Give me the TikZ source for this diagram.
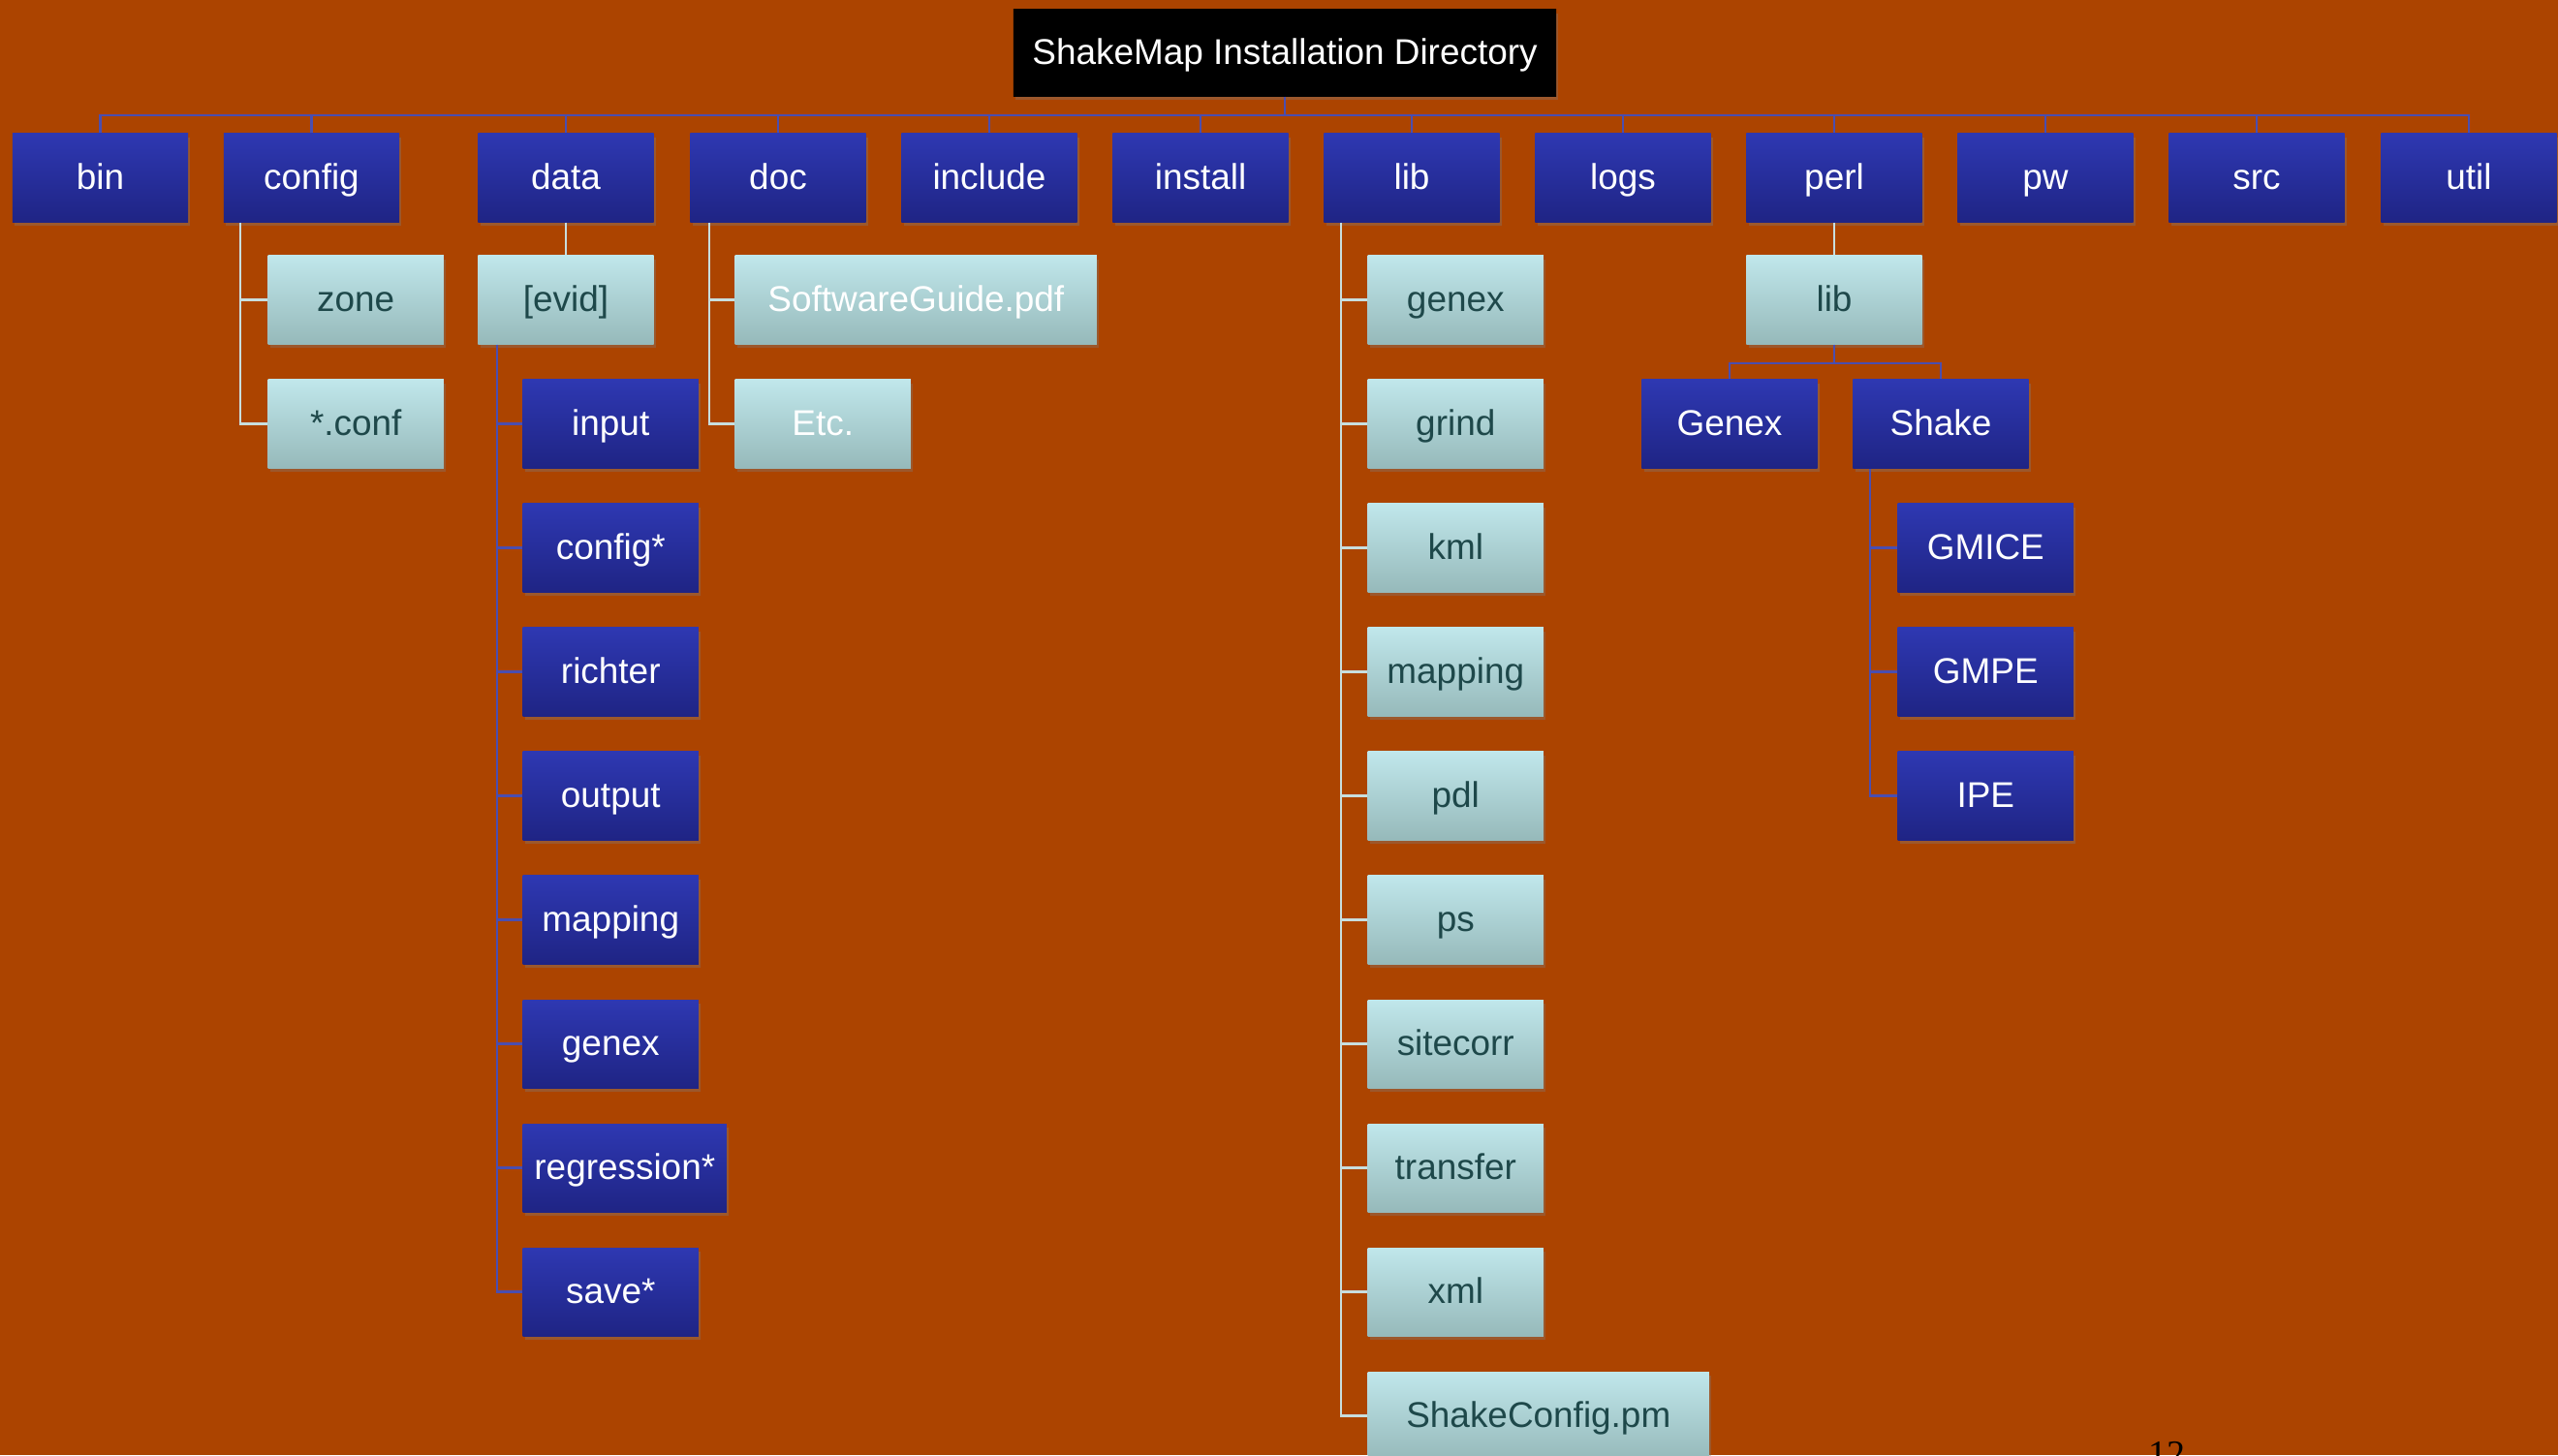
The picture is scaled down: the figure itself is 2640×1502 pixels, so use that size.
\documentclass[tikz,border=0pt]{standalone}
\usepackage{fontspec}
\setmainfont{Liberation Sans}
\newfontfamily\pagenumfont{Liberation Serif}
\usepackage{xcolor}
\usetikzlibrary{shadows}

\definecolor{bgorange}{RGB}{172,68,0}
\definecolor{boxtop}{RGB}{46,56,178}
\definecolor{boxbot}{RGB}{31,36,132}
\definecolor{paletop}{RGB}{192,231,235}
\definecolor{palebot}{RGB}{150,185,186}
\definecolor{paletext}{RGB}{30,72,74}
\definecolor{wireblue}{RGB}{74,78,176}
\definecolor{wirepale}{RGB}{200,222,222}

\tikzset{
  dirbox/.style={rectangle, minimum width=1.81cm, minimum height=0.91cm,
    top color=boxtop, bottom color=boxbot, text=white,
    text height=9.45pt, text depth=2.65pt,
    font=\fontsize{10.5}{12}\selectfont,
    drop shadow={shadow xshift=0.6pt, shadow yshift=-1.2pt, opacity=0.35}},
  filebox/.style={dirbox, top color=paletop, bottom color=palebot, text=paletext},
  bluewire/.style={draw=wireblue, line width=0.6pt},
  palewire/.style={draw=wirepale, line width=0.6pt}
}

\begin{document}
\begin{tikzpicture}[x=0.01cm, y=-0.01cm]
    \clip (0,0) rectangle (2640,1502);
    \fill[bgorange] (0,0) rectangle (2640,1502);

    % root
    \node[dirbox, top color=black, bottom color=black, minimum width=5.6cm, minimum height=0.89cm, font=\fontsize{10.5}{12}\selectfont] (title) at (1326,54.5) {ShakeMap Installation Directory};

    % first level
    \node[dirbox] (bin) at (103.5,183.5) {bin};
    \node[dirbox] (config) at (321.5,183.5) {config};
    \node[dirbox] (data) at (584,183.5) {data};
    \node[dirbox] (doc) at (803,183.5) {doc};
    \node[dirbox] (include) at (1021,183.5) {include};
    \node[dirbox] (install) at (1239,183.5) {install};
    \node[dirbox] (lib) at (1457,183.5) {lib};
    \node[dirbox] (logs) at (1675,183.5) {logs};
    \node[dirbox] (perl) at (1893,183.5) {perl};
    \node[dirbox] (pw) at (2111,183.5) {pw};
    \node[dirbox] (src) at (2329,183.5) {src};
    \node[dirbox] (util) at (2548,183.5) {util};

    % config
    \node[filebox, anchor=west] (zone) at (276,309.5) {zone};
    \node[filebox, anchor=west] (conf) at (276,437.5) {*.conf};

    % data
    \node[filebox] (evid) at (584,309.5) {[evid]};
    \node[dirbox, anchor=west] (input) at (539,437.5) {input};
    \node[dirbox, anchor=west] (cfgstar) at (539,565.5) {config*};
    \node[dirbox, anchor=west] (richter) at (539,693.5) {richter};
    \node[dirbox, anchor=west] (output) at (539,821.5) {output};
    \node[dirbox, anchor=west] (dmapping) at (539,949.5) {mapping};
    \node[dirbox, anchor=west] (dgenex) at (539,1077.5) {genex};
    \node[dirbox, anchor=west, minimum width=2.09cm] (regress) at (539,1205.5) {regression*};
    \node[dirbox, anchor=west] (save) at (539,1333.5) {save*};

    % doc
    \node[filebox, anchor=west, text=white, minimum width=3.73cm] (guide) at (758,309.5) {SoftwareGuide.pdf};
    \node[filebox, anchor=west, text=white] (etc) at (758,437.5) {Etc.};

    % lib
    \node[filebox, anchor=west] (lgenex) at (1411,309.5) {genex};
    \node[filebox, anchor=west] (grind) at (1411,437.5) {grind};
    \node[filebox, anchor=west] (kml) at (1411,565.5) {kml};
    \node[filebox, anchor=west] (lmapping) at (1411,693.5) {mapping};
    \node[filebox, anchor=west] (pdl) at (1411,821.5) {pdl};
    \node[filebox, anchor=west] (ps) at (1411,949.5) {ps};
    \node[filebox, anchor=west] (sitecorr) at (1411,1077.5) {sitecorr};
    \node[filebox, anchor=west] (transfer) at (1411,1205.5) {transfer};
    \node[filebox, anchor=west] (xml) at (1411,1333.5) {xml};
    \node[filebox, anchor=west, minimum width=3.52cm] (shakecfg) at (1411,1461.5) {ShakeConfig.pm};

    % perl
    \node[filebox] (plib) at (1893,309.5) {lib};
    \node[dirbox] (Genex) at (1785,437.5) {Genex};
    \node[dirbox] (Shake) at (2003,437.5) {Shake};
    \node[dirbox, anchor=west] (gmice) at (1958,565.5) {GMICE};
    \node[dirbox, anchor=west] (gmpe) at (1958,693.5) {GMPE};
    \node[dirbox, anchor=west] (ipe) at (1958,821.5) {IPE};

    % page number
    \node[anchor=base, inner sep=0pt, font=\pagenumfont\fontsize{10.8}{12}\selectfont] (pagenum) at (2236,1513) {12};

    % connectors
    \draw[bluewire] (title.south) -- ++(0,19) coordinate (topbar);
    \draw[bluewire] (bin.north) |- (topbar) -| (util.north);
    \draw[bluewire] (config.north) -- (config.north |- topbar)
      (data.north) -- (data.north |- topbar)
      (doc.north) -- (doc.north |- topbar)
      (include.north) -- (include.north |- topbar)
      (install.north) -- (install.north |- topbar)
      (lib.north) -- (lib.north |- topbar)
      (logs.north) -- (logs.north |- topbar)
      (perl.north) -- (perl.north |- topbar)
      (pw.north) -- (pw.north |- topbar)
      (src.north) -- (src.north |- topbar);

    \draw[palewire] ([xshift=0.18cm]config.south west) |- (zone.west)
      ([xshift=0.18cm]config.south west) |- (conf.west);

    \draw[palewire] (data.south) -- (evid.north);
    \draw[bluewire] ([xshift=0.2cm]evid.south west) |- (input.west)
      ([xshift=0.2cm]evid.south west) |- (cfgstar.west)
      ([xshift=0.2cm]evid.south west) |- (richter.west)
      ([xshift=0.2cm]evid.south west) |- (output.west)
      ([xshift=0.2cm]evid.south west) |- (dmapping.west)
      ([xshift=0.2cm]evid.south west) |- (dgenex.west)
      ([xshift=0.2cm]evid.south west) |- (regress.west)
      ([xshift=0.2cm]evid.south west) |- (save.west);

    \draw[palewire] ([xshift=0.2cm]doc.south west) |- (guide.west)
      ([xshift=0.2cm]doc.south west) |- (etc.west);

    \draw[palewire] ([xshift=0.18cm]lib.south west) |- (lgenex.west)
      ([xshift=0.18cm]lib.south west) |- (grind.west)
      ([xshift=0.18cm]lib.south west) |- (kml.west)
      ([xshift=0.18cm]lib.south west) |- (lmapping.west)
      ([xshift=0.18cm]lib.south west) |- (pdl.west)
      ([xshift=0.18cm]lib.south west) |- (ps.west)
      ([xshift=0.18cm]lib.south west) |- (sitecorr.west)
      ([xshift=0.18cm]lib.south west) |- (transfer.west)
      ([xshift=0.18cm]lib.south west) |- (xml.west)
      ([xshift=0.18cm]lib.south west) |- (shakecfg.west);

    \draw[palewire] (perl.south) -- (plib.north);
    \draw[bluewire] (plib.south) -- ++(0,19) coordinate (libbar);
    \draw[bluewire] (Genex.north) |- (libbar) -| (Shake.north);

    \draw[bluewire] ([xshift=0.18cm]Shake.south west) |- (gmice.west)
      ([xshift=0.18cm]Shake.south west) |- (gmpe.west)
      ([xshift=0.18cm]Shake.south west) |- (ipe.west);
  \end{tikzpicture}
\end{document}
